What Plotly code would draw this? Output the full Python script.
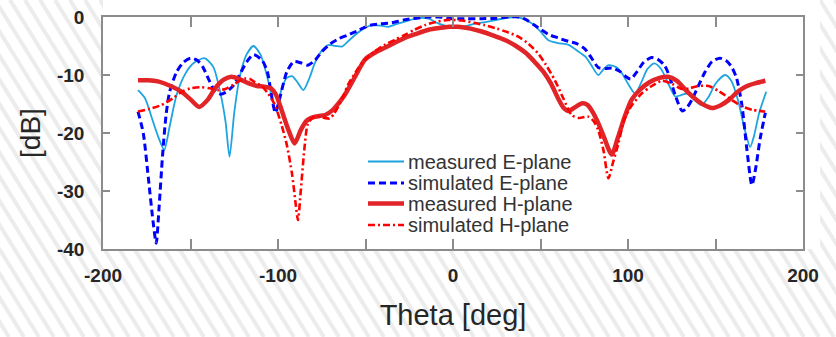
import plotly.graph_objects as go

# ---------------- data ----------------
theta_meas_E = [-180, -176, -172, -168, -165, -162, -158, -153, -148, -142, -137, -133, -130, -127.7, -125,
                -122, -118, -114, -110, -106, -103, -101, -98, -95, -92, -89, -85.5, -82, -79, -75, -71, -67,
                -63.5, -60, -56, -51, -46.5, -41, -37, -32, -27.5, -20, -14, -8.5, -3, 5, 12, 20, 28, 35, 39,
                45, 50, 54.5, 60, 66, 71, 75.5, 79, 83, 86, 89, 93, 96.5, 100, 104, 108, 111, 115, 119, 123,
                127, 130, 134, 138, 142, 146, 150, 155.5, 159, 163, 166, 169.8, 172, 175, 179]
meas_E = [-12.6, -14.0, -17.5, -21.0, -22.9, -19.0, -13.5, -9.8, -7.9, -7.1, -8.6, -13.0, -18.0, -24.1, -16.5,
          -10.5, -6.5, -5.0, -6.5, -10.5, -14.5, -16.3, -12.5, -10.5, -10.2, -11.2, -12.6, -10.5, -8.0, -5.8,
          -4.8, -5.0, -5.1, -4.2, -3.1, -2.0, -1.4, -1.5, -1.7, -1.2, -0.8, -0.2, -0.3, -1.1, -1.6, -1.7, -1.2,
          -0.8, -0.3, 0.0, -0.2, -1.1, -2.5, -4.0, -4.5, -4.8, -5.8, -6.8, -8.3, -10.0, -9.0, -8.3, -8.6, -9.7,
          -11.5, -13.2, -11.0, -9.0, -8.0, -9.0, -11.5, -13.7, -13.5, -13.2, -14.3, -15.2, -13.8, -11.5, -10.0,
          -11.0, -14.5, -18.5, -22.4, -20.5, -16.5, -12.9]

theta_sim_E = [-180, -177, -174, -171.5, -169.6, -168, -166, -164, -162, -158, -154, -150, -146, -143, -140,
               -137, -133, -130, -126, -122, -118, -114, -109, -106, -104, -101.5, -99, -95, -91, -87, -83, -79,
               -75, -70, -65, -60, -54, -48.5, -42, -35, -28, -21, -15, -8, 0, 8, 16, 25, 32, 38, 42, 46.5, 50.5,
               54.5, 60, 66, 70, 75, 79, 83, 87, 91, 95, 98.5, 101.5, 105, 109, 113.5, 117, 121, 124, 127, 131,
               134, 137, 140, 144, 148, 152.5, 156, 159, 162, 165, 168, 170.8, 173, 175.5, 178.5]
sim_E = [-16.3, -20, -28, -35, -39.0, -33, -24, -17, -13.0, -9.5, -7.8, -7.1, -7.5, -8.6, -10.5, -12.3, -13.3,
         -13.0, -12.0, -10.0, -7.8, -6.5, -7.5, -9.5, -13.0, -16.5, -14.0, -9.5, -7.7, -7.9, -8.3, -7.5, -6.0,
         -4.6, -3.7, -3.1, -2.3, -1.5, -1.2, -1.0, -0.5, -0.2, 0.0, 0.0, -0.3, -0.3, -0.3, -0.2, 0.0, 0.0, -0.5,
         -1.4, -2.2, -3.0, -3.6, -4.2, -4.5, -5.4, -7.0, -8.7, -8.9, -8.8, -9.3, -10.2, -10.7, -9.5, -7.8, -7.0,
         -7.3, -8.4, -10.5, -13.5, -16.2, -15.5, -14.0, -12.0, -9.5, -7.7, -7.1, -7.5, -8.5, -10.5, -15, -23,
         -29, -26, -21, -16.5]

theta_meas_H = [-180, -174, -168.6, -162, -155, -150, -145, -140, -136, -131, -126.7, -122, -117, -112, -108,
                -104, -101, -98, -94, -90.5, -87, -84, -81, -77, -73, -69, -65.7, -62, -58, -54, -50.5, -45, -39,
                -33, -27.5, -21, -14, -8, -2, 3, 10, 16.3, 24, 30, 36, 42, 48, 52, 56, 60, 63, 66, 70, 73.5, 77,
                80, 83, 86, 90.7, 94, 98, 102, 107, 112, 118, 123, 128, 133, 138, 143, 148, 153, 158, 163, 168,
                173, 178.5]
meas_H = [-10.9, -10.9, -11.1, -11.8, -12.9, -14.2, -15.5, -14.2, -12.3, -10.8, -10.3, -10.7, -11.4, -11.9,
          -12.0, -12.3, -13.5, -16.0, -19.5, -21.8, -19.5, -18.0, -17.4, -17.1, -16.9, -16.1, -15.0, -13.5,
          -11.4, -9.2, -7.4, -6.2, -5.3, -4.4, -3.6, -2.9, -2.2, -1.9, -1.7, -1.7, -2.0, -2.5, -3.3, -4.0, -5.0,
          -6.3, -8.2, -9.6, -11.5, -14.0, -15.6, -16.2, -15.5, -14.9, -15.2, -16.5, -18.3, -20.5, -23.7, -21.0,
          -17.3, -14.3, -12.5, -11.3, -10.5, -10.3, -11.0, -12.6, -14.0, -15.1, -15.7, -15.2, -14.2, -12.8,
          -11.9, -11.4, -11.0]

theta_sim_H = [-180, -173, -166.8, -160, -155, -150, -144, -139, -134.3, -130, -125.7, -122, -119, -116, -113.4,
               -109, -105.7, -102, -98, -95, -92, -90, -88.6, -87, -85, -83, -80, -77, -73.5, -70.5, -68, -65.7,
               -62.5, -60, -55, -50.5, -45, -39, -33, -27.6, -22, -16, -9, -2.7, 5, 12, 18, 25, 31, 37.3, 43,
               48.7, 53, 58.2, 63, 67.8, 72, 77.3, 80.5, 83, 86, 88.8, 91.5, 94.5, 98, 102, 107.8, 113, 119.3,
               125, 130.7, 135, 140, 146, 152, 159.3, 165, 171, 178.4]
sim_H = [-16.3, -15.8, -15.2, -14.0, -12.9, -12.3, -12.1, -12.3, -12.6, -12.4, -11.7, -11.0, -10.6, -10.7,
         -11.2, -12.0, -13.2, -15.0, -18.6, -22, -27, -32, -35, -30, -23, -18.5, -17.3, -17.2, -17.4, -17.5,
         -16.7, -15.5, -13.5, -11.7, -9.2, -7.4, -6.0, -4.8, -3.9, -3.1, -2.2, -1.4, -0.8, -0.5, -0.6, -1.0,
         -1.4, -2.0, -2.6, -3.4, -4.6, -6.3, -8.2, -10.9, -14.0, -16.9, -17.4, -17.2, -18.0, -19.5, -23, -27.8,
         -25, -21.8, -17.5, -15.3, -13.2, -12.0, -11.0, -11.5, -12.4, -12.3, -11.9, -11.9, -12.8, -14.3, -15.4,
         -16.0, -16.3]

series_names = ["measured E-plane", "simulated E-plane", "measured H-plane", "simulated H-plane"]
x_tick_vals = [-200, -150, -100, -50, 0, 50, 100, 150, 200]
x_tick_text = ["-200", "", "-100", "", "0", "", "100", "", "200"]
y_tick_vals = [0, -10, -20, -30, -40]
y_tick_text = ["0", "-10", "-20", "-30", "-40"]

# ---------------- styles ----------------
W, H = 836, 337
L, R, T, B = 103, 803, 17, 249
styles = [
    dict(color="#1ea4e0", width=1.8, dash="solid"),
    dict(color="#0000ff", width=3, dash="7px,4px"),
    dict(color="#e02427", width=4.5, dash="solid"),
    dict(color="#ff0000", width=2.6, dash="7px,3px,2px,3px"),
]
xs = [theta_meas_E, theta_sim_E, theta_meas_H, theta_sim_H]
ys = [meas_E, sim_E, meas_H, sim_H]

fig = go.Figure()
for name, x, y, st in zip(series_names, xs, ys, styles):
    fig.add_trace(go.Scatter(x=x, y=y, mode="lines", name=name, showlegend=False,
                             line=dict(color=st["color"], width=st["width"], dash=st["dash"],
                                       shape="spline", smoothing=0.7)))

def px2p(px):
    return (px - L) / (R - L)

def py2p(py):
    return (B - py) / (B - T)

shapes = []
# striped background
slope = 0.62
for x0 in range(-320, W + 40, 15):
    shapes.append(dict(type="line", xref="paper", yref="paper", layer="below",
                       x0=px2p(x0), y0=py2p(0), x1=px2p(x0 + slope * H), y1=py2p(H),
                       line=dict(color="#ececec", width=4)))
# white panel behind the axes
shapes.append(dict(type="rect", xref="paper", yref="paper", layer="below",
                   x0=px2p(L), x1=px2p(820), y0=py2p(B), y1=py2p(-2),
                   fillcolor="white", line=dict(width=0)))

# manual legend
leg_rows = [161.5, 183, 203.5, 225]
annotations = []
for name, st, ry in zip(series_names, styles, leg_rows):
    shapes.append(dict(type="line", xref="paper", yref="paper", layer="above",
                       x0=px2p(368), x1=px2p(404), y0=py2p(ry), y1=py2p(ry),
                       line=dict(color=st["color"], width=st["width"], dash=st["dash"])))
    annotations.append(dict(text=name, xref="paper", yref="paper", x=px2p(406), y=py2p(ry),
                            xanchor="left", yanchor="middle", showarrow=False,
                            font=dict(family="Liberation Sans, Arial", size=20, color="#333333")))

tickfont = dict(family="Liberation Sans, Arial", size=19, color="#262626", weight="bold")
axis_common = dict(showline=True, linecolor="#8c8c8c", linewidth=1.5, mirror="ticks",
                   ticks="inside", tickcolor="#8c8c8c", tickwidth=1.5, showgrid=False,
                   zeroline=False, tickfont=tickfont)

fig.update_layout(
    width=W, height=H,
    margin=dict(l=L, r=W - R, t=T, b=H - B, autoexpand=False),
    paper_bgcolor="white", plot_bgcolor="white",
    shapes=shapes, annotations=annotations,
    xaxis=dict(range=[-200, 200], tickvals=x_tick_vals, ticktext=x_tick_text, ticklen=10,
               ticklabelstandoff=8,
               title=dict(text="Theta [deg]", standoff=20,
                          font=dict(family="Liberation Sans, Arial", size=29, color="#262626")),
               **axis_common),
    yaxis=dict(range=[-40, 0], tickvals=y_tick_vals, ticktext=y_tick_text, ticklen=7,
               ticklabelstandoff=13,
               title=dict(text="[dB]", standoff=8,
                          font=dict(family="Liberation Sans, Arial", size=28, color="#262626")),
               **axis_common),
)

fig.write_html("out.html", config={"displayModeBar": False},
               post_script="document.body.style.margin='0';document.body.style.padding='0';")
